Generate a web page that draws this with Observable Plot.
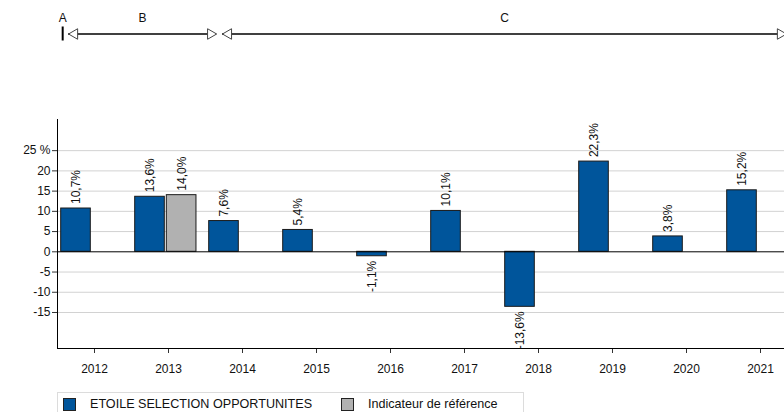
<!DOCTYPE html>
<html>
<head>
<meta charset="utf-8">
<script src="https://cdn.jsdelivr.net/npm/d3@7"></script>
<script src="https://cdn.jsdelivr.net/npm/@observablehq/plot@0.6"></script>
<style>
  html, body { margin: 0; padding: 0; background: #fff; }
  body { font-family: "Liberation Sans", Arial, sans-serif; width: 784px; height: 412px; overflow: hidden; position: relative; }
  #header, #chart { display: block; }
  #legend { position: absolute; left: 57px; top: 392px; width: 467px; height: 24px; border: 1px solid #dcdcdc; box-sizing: border-box; font-size: 12.6px; color: #111; }
  .item { position: absolute; top: 4px; display: flex; align-items: center; }
  .sw { width: 11px; height: 11px; border: 1px solid #222; margin-right: 14px; }
</style>
</head>
<body>
<div id="header"></div>
<div id="chart"></div>
<div id="legend"></div>
<script>
// ---- data ----
const years = [2012, 2013, 2014, 2015, 2016, 2017, 2018, 2019, 2020, 2021];
const fundValues = [10.7, 13.6, 7.6, 5.4, -1.1, 10.1, -13.6, 22.3, 3.8, 15.2];
const benchYears = [2013];
const benchValues = [14.0];
const seriesNames = ["ETOILE SELECTION OPPORTUNITES", "Indicateur de référence"];
const seriesColors = ["#00559b", "#b1b1b1"];
const yTickValues = [-15, -10, -5, 0, 5, 10, 15, 20, 25];
const periodLabels = ["A", "B", "C"];
const periodStart = [2011.57, 2011.65, 2013.73];
const periodEnd = [2011.57, 2013.65, 2021.35];

// ---- layout/style ----
const W = 784, ML = 57, MR = 0;
const xDomain = [2011.5, 2011.5 + (W - ML - MR) / 74];
const yDomain = [-23.9, 32.7];
const fmt = v => v.toFixed(1).replace(".", ",") + "%";

const fund = years.map((y, i) => ({year: y, value: fundValues[i]}));
const bench = benchYears.map((y, i) => ({year: y, value: benchValues[i]}));
const periods = periodLabels.map((l, i) => ({label: l, start: periodStart[i], end: periodEnd[i]}));

// ---- header ----
const header = Plot.plot({
  width: W, height: 50,
  marginLeft: ML, marginRight: MR, marginTop: 26.5, marginBottom: 9.5,
  x: {domain: xDomain, axis: null},
  y: {domain: [-1, 1], axis: null},
  style: {fontFamily: "Liberation Sans, Arial, sans-serif", overflow: "visible"},
  marks: [
    Plot.ruleY(periods.filter(p => p.end > p.start), {x1: "start", x2: "end", y: () => 0, stroke: "#000", strokeWidth: 1.6}),
    Plot.ruleX(periods.filter(p => p.end === p.start), {x: "start", y1: () => -1, y2: () => 1, stroke: "#000", strokeWidth: 2}),
    Plot.dot(periods.filter(p => p.end > p.start), {x: "start", y: () => 0, symbol: "triangle", r: 3.9, rotate: -90, dx: 6, fill: "#fff", stroke: "#444", strokeWidth: 1}),
    Plot.dot(periods.filter(p => p.end > p.start), {x: "end", y: () => 0, symbol: "triangle", r: 3.9, rotate: 90, dx: -6, fill: "#fff", stroke: "#444", strokeWidth: 1}),
    Plot.text(periods, {x: p => (p.start + p.end) / 2, y: () => 1, dy: -9, text: "label", fontSize: 12, fill: "#111"})
  ]
});
document.getElementById("header").append(header);

// ---- main chart ----
const chart = Plot.plot({
  width: W, height: 340,
  marginLeft: ML, marginRight: MR, marginTop: 69, marginBottom: 42,
  x: {domain: xDomain, axis: null},
  y: {domain: yDomain, axis: null},
  style: {fontFamily: "Liberation Sans, Arial, sans-serif", fontSize: "12px", overflow: "visible"},
  marks: [
    Plot.ruleY(yTickValues.filter(d => d !== 0), {stroke: "#d2d2d2", strokeWidth: 1}),
    Plot.axisY({ticks: yTickValues, tickFormat: d => d === 25 ? "25 %" : String(d), tickSize: 5, tickPadding: 2, fontSize: 12, stroke: "#333", color: "#111", label: null}),
    Plot.axisX({ticks: years, tickFormat: d => String(d), tickSize: 5, tickPadding: 11, fontSize: 12, stroke: "#333", color: "#111", label: null}),
    Plot.rectY(fund, {x1: d => d.year - 0.45, x2: d => d.year - 0.05, y1: 0, y2: "value", fill: seriesColors[0], stroke: "#1a1a1a", strokeWidth: 1}),
    Plot.rectY(bench, {x1: d => d.year - 0.023, x2: d => d.year + 0.378, y1: 0, y2: "value", fill: seriesColors[1], stroke: "#1a1a1a", strokeWidth: 1}),
    Plot.ruleY([0], {stroke: "#000", strokeWidth: 1}),
    Plot.ruleX([xDomain[0]], {stroke: "#000", strokeWidth: 1}),
    Plot.ruleY([yDomain[0]], {stroke: "#000", strokeWidth: 1}),
    Plot.text(fund.filter(d => d.value >= 0), {x: d => d.year - 0.25, y: "value", text: d => fmt(d.value), rotate: -90, textAnchor: "start", dy: -4.5, fontSize: 12, fill: "#111"}),
    Plot.text(fund.filter(d => d.value < 0), {x: d => d.year - 0.25, y: "value", text: d => fmt(d.value), rotate: -90, textAnchor: "end", dy: 4.5, fontSize: 12, fill: "#111"}),
    Plot.text(bench, {x: d => d.year + 0.178, y: "value", text: d => fmt(d.value), rotate: -90, textAnchor: "start", dy: -4.5, fontSize: 12, fill: "#111"})
  ]
});
document.getElementById("chart").append(chart);

// ---- legend ----
const legend = document.getElementById("legend");
const lefts = [5, 283];
seriesNames.forEach((n, i) => {
  const it = document.createElement("div");
  it.className = "item";
  it.style.left = lefts[i] + "px";
  const sw = document.createElement("span");
  sw.className = "sw";
  sw.style.background = seriesColors[i];
  const t = document.createElement("span");
  t.textContent = n;
  it.append(sw, t);
  legend.append(it);
});
</script>
</body>
</html>
